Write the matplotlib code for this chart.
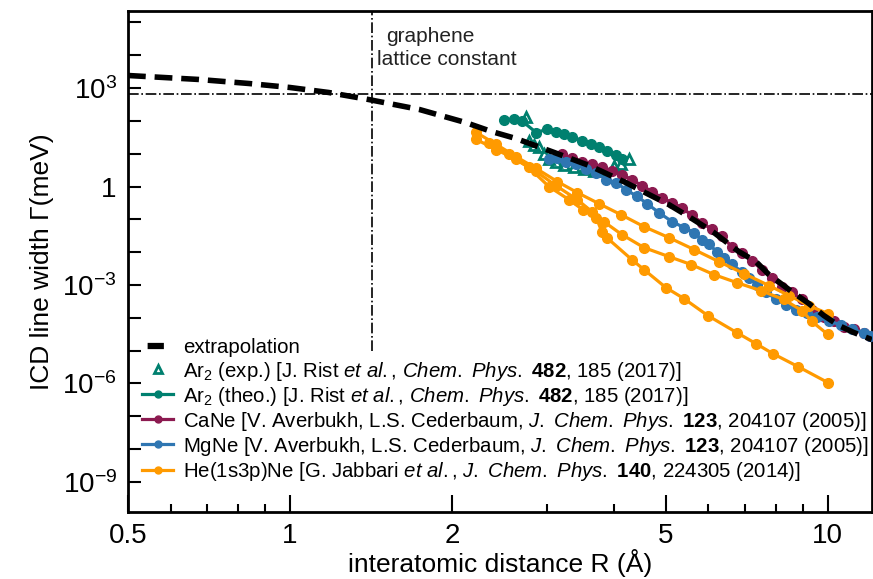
import matplotlib
matplotlib.use("Agg")
import matplotlib.pyplot as plt
from matplotlib.ticker import FixedLocator, NullFormatter
from matplotlib.lines import Line2D

plt.rcParams['font.family'] = ['Liberation Sans', 'DejaVu Sans']
plt.rcParams['mathtext.fontset'] = 'custom'
plt.rcParams['mathtext.rm'] = 'Liberation Sans'
plt.rcParams['mathtext.it'] = 'Liberation Sans:italic'
plt.rcParams['mathtext.bf'] = 'Liberation Sans:bold'

# ---------------- data ----------------
extrap_R = [0.50, 0.677, 0.839, 1.0, 1.18, 1.40, 1.74, 2.12, 2.37, 2.63, 3.10, 3.60, 4.21,
            4.65, 5.06, 5.51, 6.14, 6.83, 7.35, 7.77, 8.47, 9.22, 9.83, 10.48, 11.18, 12.07]
extrap_G = [2420, 1830, 1380, 1043, 735, 449, 223, 89.4, 47.5, 29.1, 10.9, 4.36, 1.32,
            0.570, 0.283, 0.122, 0.0396, 0.0104, 0.00516, 0.00207, 7.2e-4, 2.71e-4, 1.17e-4,
            5.8e-5, 3.54e-5, 2.16e-5]

ar_exp_R = [2.75, 2.78, 2.84, 2.90, 2.97, 3.03, 3.12, 3.23, 3.37, 3.52, 3.67, 3.83, 4.00, 4.12, 4.27]
ar_exp_G = [136, 25, 19, 15.5, 9.5, 6.7, 5.4, 4.4, 3.8, 3.3, 2.9, 3.1, 4.1, 5.0, 6.7]

ar_theo_R = [2.50, 2.61, 2.70, 2.87, 3.00, 3.12, 3.23, 3.35, 3.49, 3.63, 3.75, 3.88, 4.04, 4.14]
ar_theo_G = [103, 118, 100, 44, 55, 47, 40, 33, 25, 20, 16, 12, 9, 7]

cane_R = [3.20, 3.34, 3.49, 3.64, 3.80, 3.97, 4.14, 4.32, 4.51, 4.71, 4.91, 5.13, 5.35, 5.59,
          5.83, 6.09, 6.35, 6.63, 6.92, 7.22, 7.54, 7.87, 8.21, 8.57, 8.95, 9.34, 9.83, 10.26,
          10.71, 11.18, 11.67, 12.0]
cane_G = [9.46, 7.66, 5.78, 4.69, 3.80, 3.07, 2.32, 1.63, 1.07, 0.70, 0.46, 0.325, 0.229, 0.131,
          0.080, 0.049, 0.030, 0.0148, 0.0097, 0.0055, 0.00295, 0.00168, 8.9e-4, 5.9e-4, 3.6e-4,
          1.78e-4, 1.09e-4, 7.7e-5, 5.4e-5, 4.4e-5, 3.5e-5, 2.7e-5]

mgne_R = [3.03, 3.14, 3.26, 3.40, 3.55, 3.71, 3.87, 4.04, 4.21, 4.42, 4.61, 4.85, 5.13, 5.40,
          5.64, 5.83, 6.01, 6.22, 6.41, 6.63, 6.92, 7.13, 7.38, 7.67, 8.01, 8.36, 8.72, 9.14,
          9.54, 10.04, 10.57, 11.08, 11.67, 12.0]
mgne_G = [6.66, 7.66, 5.78, 4.69, 3.30, 2.67, 1.63, 1.32, 0.81, 0.50, 0.303, 0.161, 0.0857,
          0.0562, 0.0396, 0.0242, 0.0171, 0.0104, 0.0068, 0.0042, 0.00256, 0.00168, 0.00103,
          6.3e-4, 3.6e-4, 2.5e-4, 1.78e-4, 1.44e-4, 1.09e-4, 7.7e-5, 6.2e-5, 4.4e-5, 3.5e-5, 2.7e-5]

he1_R = [2.22, 2.42, 2.63, 2.87, 3.14, 3.42, 3.75, 4.12, 4.55, 5.06, 5.64, 6.27, 6.98, 7.77,
         8.47, 9.22, 10.0]
he1_G = [44.3, 19.1, 8.2, 3.54, 1.42, 0.656, 0.303, 0.140, 0.060, 0.0279, 0.0120, 0.00516,
         0.00223, 9.6e-4, 4.75e-4, 2.35e-4, 1.34e-4]

he2_R = [2.22, 2.42, 2.63, 2.87, 3.12, 3.42, 3.64, 3.83, 4.14, 4.55, 5.06, 5.57, 6.14, 6.77,
         7.51, 8.28, 8.95, 9.34, 10.0]
he2_G = [27.1, 13.4, 6.66, 2.87, 1.07, 0.40, 0.173, 0.0857, 0.0344, 0.0138, 0.00734, 0.00419,
         0.00207, 0.00118, 6.7e-4, 3.6e-4, 1.66e-4, 7.7e-5, 3.1e-5]

he3_R = [2.34, 2.55, 2.78, 3.03, 3.30, 3.50, 3.71, 3.80, 3.88, 4.32, 4.55, 5.00, 5.40, 5.98,
         6.77, 7.35, 7.90, 8.80, 10.0]
he3_G = [21.9, 9.46, 3.80, 1.0, 0.40, 0.199, 0.1135, 0.0425, 0.0279, 0.00594, 0.00295, 8.3e-4,
         3.85e-4, 1.17e-4, 3.54e-5, 1.63e-5, 8.1e-6, 3.25e-6, 1.06e-6]

graphene_R = 1.42
hline_G = 650

x_ticks = [0.5, 1, 2, 5, 10]
x_ticklabels = ['0.5', '1', '2', '5', '10']
y_ticks = [1e3, 1, 1e-3, 1e-6, 1e-9]
y_ticklabels = ['$10^{3}$', '1', '$10^{-3}$', '$10^{-6}$', '$10^{-9}$']

labels = [
    'extrapolation',
    r'Ar$_2$ (exp.) [J. Rist $\it{et}$ $\it{al.}$, $\it{Chem.}$ $\it{Phys.}$ $\bf{482}$, 185 (2017)]',
    r'Ar$_2$ (theo.) [J. Rist $\it{et}$ $\it{al.}$, $\it{Chem.}$ $\it{Phys.}$ $\bf{482}$, 185 (2017)]',
    r'CaNe [V. Averbukh, L.S. Cederbaum, $\it{J.}$ $\it{Chem.}$ $\it{Phys.}$ $\bf{123}$, 204107 (2005)]',
    r'MgNe [V. Averbukh, L.S. Cederbaum, $\it{J.}$ $\it{Chem.}$ $\it{Phys.}$ $\bf{123}$, 204107 (2005)]',
    r'He(1s3p)Ne [G. Jabbari $\it{et}$ $\it{al.}$, $\it{J.}$ $\it{Chem.}$ $\it{Phys.}$ $\bf{140}$, 224305 (2014)]',
]

c_teal = '#00806f'
c_purple = '#8c1a50'
c_blue = '#2f76b2'
c_orange = '#ff9a00'

LW = 2.3
MS = 7

# ---------------- figure ----------------
fig = plt.figure(figsize=(8.73, 5.79), dpi=100)
ax = fig.add_axes([0.1466, 0.1157, 0.852, 0.866])

ax.plot(extrap_R, extrap_G, color='black', lw=4, ls=(0, (3.2, 1.6)), zorder=5)
ax.plot(ar_exp_R, ar_exp_G, ls='none', marker='^', ms=MS, mfc='none', mec=c_teal, mew=2, zorder=3)
ax.plot(ar_theo_R, ar_theo_G, color=c_teal, lw=LW, marker='o', ms=MS, zorder=3)
ax.plot(cane_R, cane_G, color=c_purple, lw=LW, marker='o', ms=MS, zorder=4)
ax.plot(mgne_R, mgne_G, color=c_blue, lw=LW, marker='o', ms=MS, zorder=4)
ax.plot(he1_R, he1_G, color=c_orange, lw=LW, marker='o', ms=MS, zorder=4)
ax.plot(he2_R, he2_G, color=c_orange, lw=LW, marker='o', ms=MS, zorder=4)
ax.plot(he3_R, he3_G, color=c_orange, lw=LW, marker='o', ms=MS, zorder=4)

ax.axhline(hline_G, color='black', lw=1.2, ls='-.', zorder=2)
ax.plot([graphene_R, graphene_R], [1e-5, 1e6], color='black', lw=1.2, ls='-.', zorder=2)

ax.text(1.51, 3.7e4, 'graphene', fontsize=15, va='center', ha='left', color='#222222')
ax.text(1.45, 7.4e3, 'lattice constant', fontsize=15, va='center', ha='left', color='#222222')

ax.set_xscale('log')
ax.set_yscale('log')
ax.set_xlim(0.5, 12.07)
ax.set_ylim(1.2e-10, 2.3e5)

ax.xaxis.set_major_locator(FixedLocator(x_ticks))
ax.set_xticklabels(x_ticklabels)
ax.xaxis.set_minor_locator(FixedLocator([0.6, 0.7, 0.8, 0.9, 3, 4, 6, 7, 8, 9]))
ax.xaxis.set_minor_formatter(NullFormatter())
ax.yaxis.set_major_locator(FixedLocator(y_ticks))
ax.set_yticklabels(y_ticklabels)
ax.yaxis.set_minor_locator(FixedLocator([10.0 ** k for k in range(-10, 6)]))
ax.yaxis.set_minor_formatter(NullFormatter())

ax.tick_params(axis='both', which='both', direction='in', width=1.5, labelsize=20, colors='black')
ax.tick_params(axis='x', which='major', length=12, pad=8)
ax.tick_params(axis='x', which='minor', length=6)
ax.tick_params(axis='y', which='both', length=9, pad=8)
for s in ax.spines.values():
    s.set_linewidth(2)

ax.set_xlabel('interatomic distance R (Å)', fontsize=19, labelpad=0)
ax.set_ylabel('ICD line width Γ(meV)', fontsize=19, labelpad=6)

# legend proxies
h0p = Line2D([], [], color='black', lw=4.5, ls=(4.3, (2.6, 2.6)))
h1p = Line2D([], [], ls='none', marker='^', ms=6, mfc='none', mec=c_teal, mew=2)
h2p = Line2D([], [], color=c_teal, lw=LW, marker='o', ms=5)
h3p = Line2D([], [], color=c_purple, lw=LW, marker='o', ms=5)
h4p = Line2D([], [], color=c_blue, lw=LW, marker='o', ms=5)
h5p = Line2D([], [], color=c_orange, lw=LW, marker='o', ms=5)

ax.legend([h0p, h1p, h2p, h3p, h4p, h5p], labels, loc='lower left',
          bbox_to_anchor=(0.0, 0.03), frameon=False, fontsize=14.7,
          handlelength=1.5, handletextpad=0.5, labelspacing=0.1, borderaxespad=0.3)

fig.savefig('out.png', dpi=100)
